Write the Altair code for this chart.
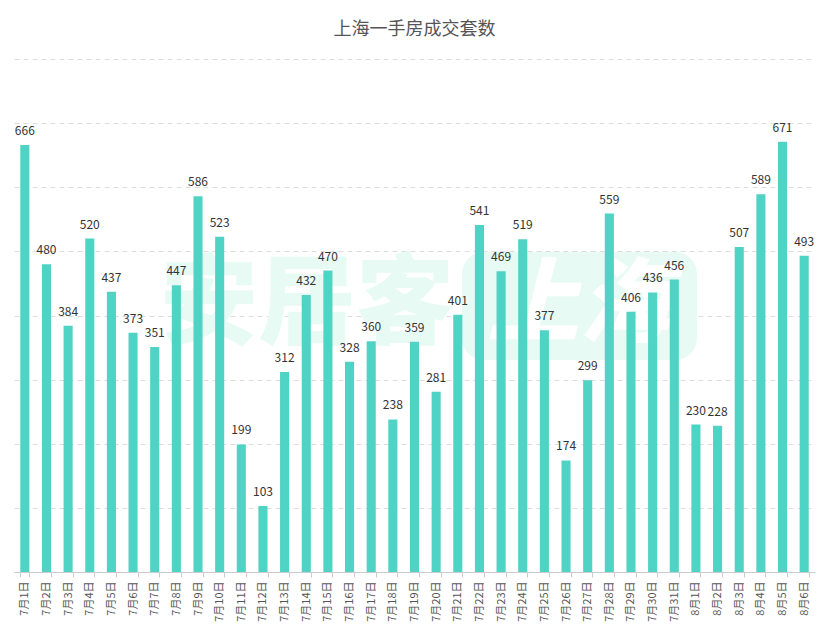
import altair as alt
import pandas as pd

dates = [f"7月{i}日" for i in range(1, 32)] + [f"8月{i}日" for i in range(1, 7)]
values = [666, 480, 384, 520, 437, 373, 351, 447, 586, 523, 199, 103, 312, 432,
          470, 328, 360, 238, 359, 281, 401, 541, 469, 519, 377, 174, 299, 559,
          406, 436, 456, 230, 228, 507, 589, 671, 493]
y_grid = [0, 100, 200, 300, 400, 500, 600, 700, 800]

df = pd.DataFrame({"date": dates, "count": values})
wm = pd.DataFrame({"k": [1]})

FONT = "Noto Sans CJK SC"
W, H = 801, 513

x_enc = alt.X("date:N", sort=dates, title=None,
              scale=alt.Scale(paddingInner=0.58, paddingOuter=0.29),
              axis=alt.Axis(labelAngle=-90, labelFontSize=11, labelColor="#555",
                            labelFont=FONT, labelPadding=4, tickColor="#ccc",
                            tickSize=5, domainColor="#ccc", tickBand="extent",
                            grid=False))
y_enc = alt.Y("count:Q", title=None,
              scale=alt.Scale(domain=[0, 800], nice=False),
              axis=alt.Axis(values=y_grid, labels=False, ticks=False, domain=False,
                            grid=True, gridColor="#dddddd", gridDash=[5, 4]))

base = alt.Chart(df)
wbase = alt.Chart(wm)
WM_COLOR = "#e7faf4"

wm_text = wbase.mark_text(text="安居客", font=FONT, fontSize=98, fontWeight=900,
                          color=WM_COLOR, align="center", baseline="middle").encode(
    x=alt.value(293), y=alt.value(248))
wm_box = wbase.mark_rect(color=WM_COLOR, cornerRadius=22).encode(
    x=alt.value(448), x2=alt.value(683), y=alt.value(193), y2=alt.value(301))
wm_box_text = wbase.mark_text(text="上海", font=FONT, fontSize=92, fontWeight=900,
                              fontStyle="italic", color="#ffffff", align="center",
                              baseline="middle").encode(
    x=alt.value(565), y=alt.value(248))

bars = base.mark_bar(color="#4fd3c4").encode(x=x_enc, y=y_enc)
labels = base.mark_text(font=FONT, fontSize=12, color="#333333", dy=-14,
                        baseline="middle").encode(
    x=alt.X("date:N", sort=dates), y="count:Q", text="count:Q")

chart = alt.layer(wm_box, wm_text, wm_box_text, bars, labels).properties(
    width=W, height=H,
    title=alt.Title("上海一手房成交套数", font=FONT, fontSize=18, fontWeight="normal",
                    color="#555555", offset=20),
    autosize=alt.AutoSizeParams(type="none"),
    padding={"left": 6, "top": 51, "right": 6, "bottom": 56},
).configure_view(stroke=None)

chart.save("out.html", embed_options={"renderer": "svg", "actions": False})
